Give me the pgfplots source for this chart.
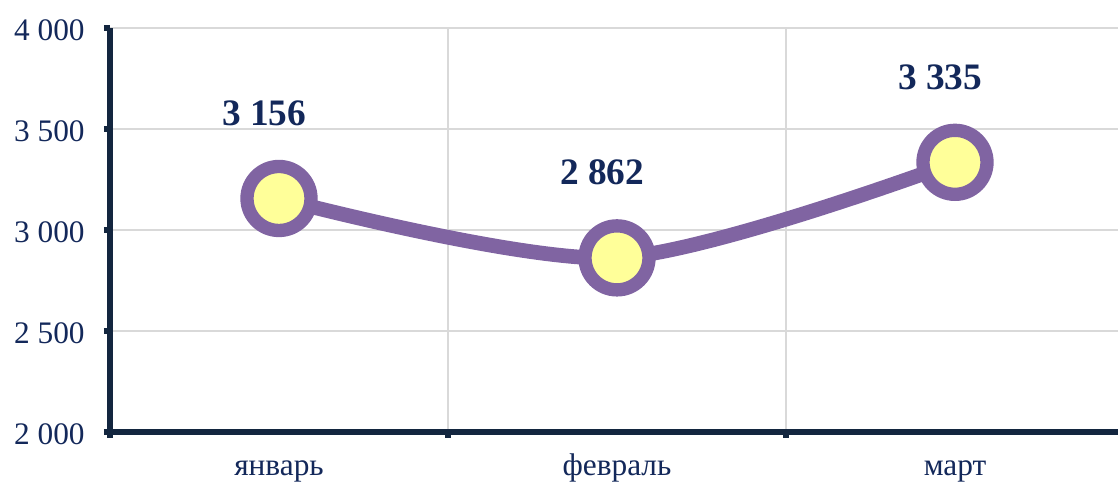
\documentclass[border=0pt]{standalone}
\usepackage{fontspec}
\setmainfont{Liberation Serif}
\usepackage{pgfplots}
\pgfplotsset{compat=1.18}
\definecolor{navy}{HTML}{13285A}
\definecolor{axisc}{HTML}{13263F}
\definecolor{purp}{HTML}{8064A2}
\definecolor{yel}{HTML}{FFFF99}
\definecolor{gridc}{HTML}{D9D9D9}
\begin{document}
\begin{tikzpicture}
\begin{axis}[
  at={(0,0)}, anchor=south west,
  scale only axis, width=760.5pt, height=303pt,
  xmin=-0.5, xmax=2.5, ymin=2000, ymax=4000,
  axis x line=bottom, axis y line=left,
  axis line style={line width=4.5pt, color=axisc, -},
  xtick={0,1,2}, xticklabels={январь,февраль,март},
  major x tick style={draw=none},
  minor xtick={-0.5,0.5,1.5},
  minor x grid style={gridc, line width=1.5pt},
  xminorgrids,
  minor tick length=4.5pt,
  minor x tick style={line width=4.5pt, color=axisc},
  ytick={2000,2500,...,4000},
  ymajorgrids,
  major grid style={gridc, line width=1.5pt},
  tick align=outside,
  major tick length=4.5pt,
  y tick style={line width=4.5pt, color=axisc},
  /pgf/number format/assume math mode=true,
  /pgf/number format/1000 sep={\ },
  ticklabel style={font=\fontsize{23.5}{26}\selectfont, text=navy},
  yticklabel style={xshift=-11pt, yshift=-1.5pt},
  xticklabel style={anchor=base, yshift=-28pt},
  clip=false,
  nodes near coords,
  every node near coord/.append style={font=\bfseries\fontsize{28}{30}\selectfont, text=navy, anchor=center, xshift=-11pt, yshift=64pt},
]
\addplot[smooth, color=purp, line width=11pt, mark=*, mark size=24pt,
  mark options={draw=purp, fill=yel, line width=10pt},
  point meta=explicit symbolic]
  coordinates {(0,3156) [3\ 156] (1,2862) [2\ 862] (2,3335) [3\ 335]};
\end{axis}
\pgfresetboundingbox
\path[use as bounding box] (-82.5pt,-39.75pt) rectangle (756pt,324pt);
\end{tikzpicture}
\end{document}
